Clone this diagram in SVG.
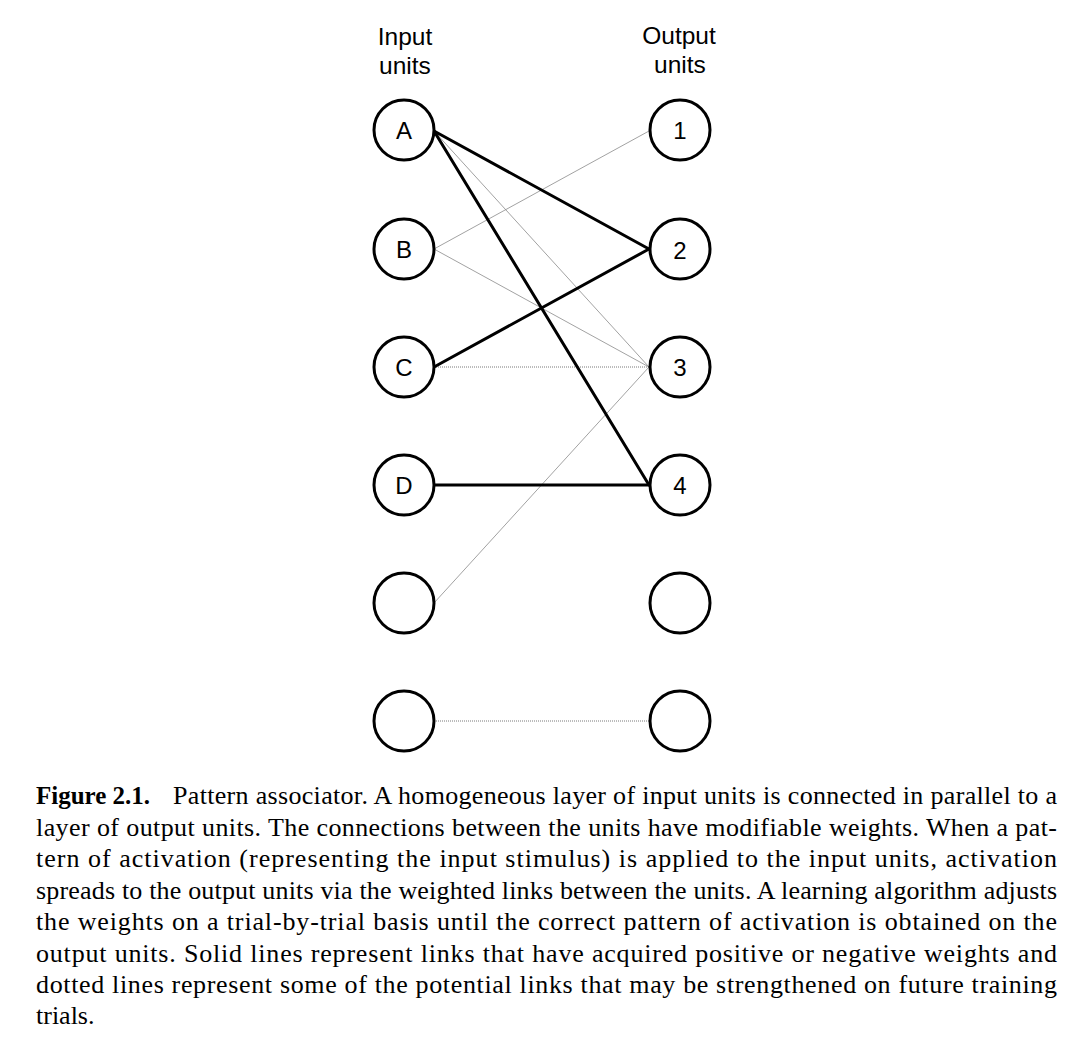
<svg xmlns="http://www.w3.org/2000/svg" width="1082" height="1054" viewBox="0 0 1082 1054">
<style>
.unit{fill:#fff;stroke:#000;stroke-width:3}
.lbl{font-family:"Liberation Sans",Arial,sans-serif;font-size:24px;text-anchor:middle;fill:#000}
.hdr{font-family:"Liberation Sans",Arial,sans-serif;font-size:24.5px;text-anchor:middle;fill:#000}
.strong{stroke:#000;stroke-width:3;stroke-linecap:round}
.weak{stroke:#8a8a8a;stroke-width:0.8}
.dot{stroke:#555;stroke-width:0.8;stroke-dasharray:1 1}
.cap{font-family:"Liberation Serif","Times New Roman",serif;font-size:26px;fill:#000}
</style>
<rect width="1082" height="1054" fill="#fff"/>
<g id="headers">
<text class="hdr" x="405" y="45">Input</text>
<text class="hdr" x="405" y="74">units</text>
<text class="hdr" x="679" y="44">Output</text>
<text class="hdr" x="680" y="73">units</text>
</g>
<g id="connectors">
<line class="weak" x1="434" y1="249" x2="649" y2="131"/>
<line class="weak" x1="434" y1="131" x2="649" y2="367"/>
<line class="weak" x1="434" y1="249" x2="649" y2="367"/>
<line class="dot" x1="434" y1="367" x2="649" y2="367"/>
<line class="weak" x1="434" y1="603" x2="649" y2="367"/>
<line class="dot" x1="434" y1="721" x2="649" y2="721"/>
<line class="strong" x1="434" y1="131" x2="649" y2="249"/>
<line class="strong" x1="434" y1="131" x2="649" y2="485"/>
<line class="strong" x1="434" y1="367" x2="649" y2="249"/>
<line class="strong" x1="434" y1="485" x2="649" y2="485"/>
</g>
<g id="in-A"><circle class="unit" cx="404" cy="130" r="30"/><text class="lbl" x="404" y="138.5">A</text></g>
<g id="in-B"><circle class="unit" cx="404" cy="249" r="30"/><text class="lbl" x="404" y="257.5">B</text></g>
<g id="in-C"><circle class="unit" cx="404" cy="367" r="30"/><text class="lbl" x="404" y="375.5">C</text></g>
<g id="in-D"><circle class="unit" cx="404" cy="485" r="30"/><text class="lbl" x="404" y="493.5">D</text></g>
<g id="in-5"><circle class="unit" cx="404" cy="603" r="30"/></g>
<g id="in-6"><circle class="unit" cx="404" cy="721" r="30"/></g>
<g id="out-1"><circle class="unit" cx="680" cy="130" r="30"/><text class="lbl" x="680" y="138.5">1</text></g>
<g id="out-2"><circle class="unit" cx="680" cy="249" r="30"/><text class="lbl" x="680" y="259">2</text></g>
<g id="out-3"><circle class="unit" cx="680" cy="367" r="30"/><text class="lbl" x="680" y="375.5">3</text></g>
<g id="out-4"><circle class="unit" cx="680" cy="485" r="30"/><text class="lbl" x="680" y="493.5">4</text></g>
<g id="out-5"><circle class="unit" cx="680" cy="603" r="30"/></g>
<g id="out-6"><circle class="unit" cx="680" cy="721" r="30"/></g>
<g id="caption" class="cap">
<text x="36" y="804" font-weight="bold" font-size="25">Figure 2.1.</text>
<text x="173" y="804" textLength="884" lengthAdjust="spacing">Pattern associator. A homogeneous layer of input units is connected in parallel to a</text>
<text x="36" y="835.5" textLength="1021" lengthAdjust="spacing">layer of output units. The connections between the units have modifiable weights. When a pat-</text>
<text x="36" y="867" textLength="1021" lengthAdjust="spacing">tern of activation (representing the input stimulus) is applied to the input units, activation</text>
<text x="36" y="898.5" textLength="1021" lengthAdjust="spacing">spreads to the output units via the weighted links between the units. A learning algorithm adjusts</text>
<text x="36" y="930" textLength="1021" lengthAdjust="spacing">the weights on a trial-by-trial basis until the correct pattern of activation is obtained on the</text>
<text x="36" y="961.5" textLength="1021" lengthAdjust="spacing">output units. Solid lines represent links that have acquired positive or negative weights and</text>
<text x="36" y="993" textLength="1021" lengthAdjust="spacing">dotted lines represent some of the potential links that may be strengthened on future training</text>
<text x="36" y="1024">trials.</text>
</g>
</svg>
